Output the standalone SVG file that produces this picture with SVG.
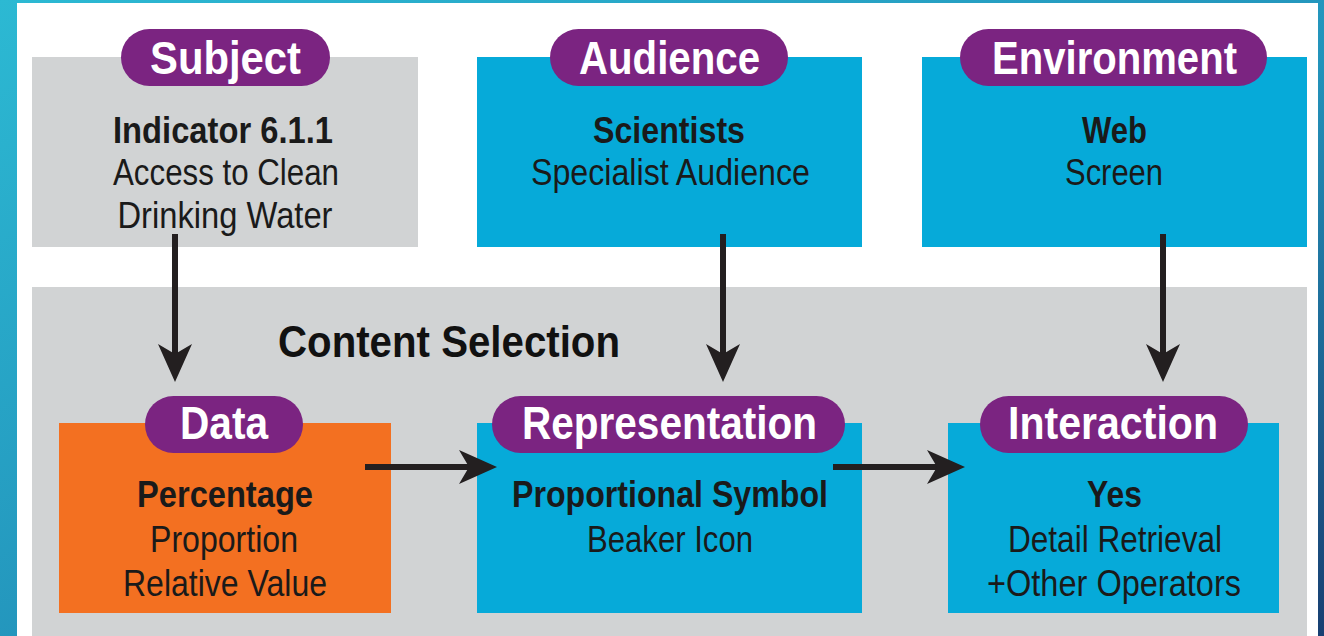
<svg xmlns="http://www.w3.org/2000/svg" width="1324" height="636" viewBox="0 0 1324 636">
  <defs>
    <linearGradient id="bg" x1="0" y1="0" x2="1" y2="1">
      <stop offset="0" stop-color="#2cb9d3"/>
      <stop offset="0.55" stop-color="#2393bb"/>
      <stop offset="1" stop-color="#183f72"/>
    </linearGradient>
    <marker id="arr" viewBox="0 0 38 34" refX="10" refY="17" markerWidth="38" markerHeight="34" markerUnits="userSpaceOnUse" orient="auto">
      <path d="M0,0 L38,17 L0,34 L10,17 Z" fill="#231f20"/>
    </marker>
  </defs>
  <style>
    .gray { fill: #d1d3d4; }
    .blue { fill: #06aad9; }
    .orange { fill: #f37021; }
    .pill { fill: #7b2481; }
    .title { font-family: "Liberation Sans", Arial, sans-serif; font-weight: bold; font-size: 46px; fill: #ffffff; text-anchor: middle; }
    .b { font-family: "Liberation Sans", Arial, sans-serif; font-weight: bold; font-size: 37px; fill: #1a1a1a; text-anchor: middle; }
    .r { font-family: "Liberation Sans", Arial, sans-serif; font-size: 37px; fill: #1a1a1a; text-anchor: middle; }
    .head { font-family: "Liberation Sans", Arial, sans-serif; font-weight: bold; font-size: 44px; fill: #111111; }
    .conn { stroke: #231f20; stroke-width: 6; fill: none; marker-end: url(#arr); }
  </style>

  <rect x="0" y="0" width="1324" height="636" fill="url(#bg)"/>
  <rect x="17" y="3" width="1301" height="633" fill="#ffffff"/>

  <g id="content-selection">
    <rect class="gray" x="32" y="287" width="1275" height="349"/>
    <text class="head" x="278" y="357" textLength="342" lengthAdjust="spacingAndGlyphs">Content Selection</text>
  </g>

  <g id="subject">
    <rect class="gray" x="32" y="57" width="386" height="190"/>
    <rect class="pill" x="121" y="29" width="209" height="57" rx="28.5"/>
    <text class="title" x="225.5" y="74" textLength="151" lengthAdjust="spacingAndGlyphs">Subject</text>
    <text class="b" x="223" y="143" textLength="220" lengthAdjust="spacingAndGlyphs">Indicator 6.1.1</text>
    <text class="r" x="226" y="185" textLength="226" lengthAdjust="spacingAndGlyphs">Access to Clean</text>
    <text class="r" x="225" y="228" textLength="215" lengthAdjust="spacingAndGlyphs">Drinking Water</text>
  </g>

  <g id="audience">
    <rect class="blue" x="477" y="57" width="385" height="190"/>
    <rect class="pill" x="550" y="29" width="238" height="57" rx="28.5"/>
    <text class="title" x="669.5" y="74" textLength="181" lengthAdjust="spacingAndGlyphs">Audience</text>
    <text class="b" x="669" y="143" textLength="152" lengthAdjust="spacingAndGlyphs">Scientists</text>
    <text class="r" x="670.5" y="185" textLength="279" lengthAdjust="spacingAndGlyphs">Specialist Audience</text>
  </g>

  <g id="environment">
    <rect class="blue" x="922" y="57" width="385" height="190"/>
    <rect class="pill" x="960" y="29" width="307" height="57" rx="28.5"/>
    <text class="title" x="1114.5" y="74" textLength="245" lengthAdjust="spacingAndGlyphs">Environment</text>
    <text class="b" x="1114.5" y="143" textLength="65" lengthAdjust="spacingAndGlyphs">Web</text>
    <text class="r" x="1114" y="185" textLength="98" lengthAdjust="spacingAndGlyphs">Screen</text>
  </g>

  <g id="data">
    <rect class="orange" x="59" y="423" width="332" height="190"/>
    <rect class="pill" x="145" y="396" width="158" height="57" rx="28.5"/>
    <text class="title" x="224" y="439" textLength="88" lengthAdjust="spacingAndGlyphs">Data</text>
    <text class="b" x="225" y="507" textLength="176" lengthAdjust="spacingAndGlyphs">Percentage</text>
    <text class="r" x="224" y="552" textLength="148" lengthAdjust="spacingAndGlyphs">Proportion</text>
    <text class="r" x="225" y="596" textLength="204" lengthAdjust="spacingAndGlyphs">Relative Value</text>
  </g>

  <g id="representation">
    <rect class="blue" x="477" y="423" width="385" height="190"/>
    <rect class="pill" x="492" y="396" width="353" height="57" rx="28.5"/>
    <text class="title" x="669.5" y="439" textLength="295" lengthAdjust="spacingAndGlyphs">Representation</text>
    <text class="b" x="670" y="507" textLength="316" lengthAdjust="spacingAndGlyphs">Proportional Symbol</text>
    <text class="r" x="670" y="552" textLength="166" lengthAdjust="spacingAndGlyphs">Beaker Icon</text>
  </g>

  <g id="interaction">
    <rect class="blue" x="948" y="423" width="331" height="190"/>
    <rect class="pill" x="980" y="396" width="268" height="57" rx="28.5"/>
    <text class="title" x="1113" y="439" textLength="210" lengthAdjust="spacingAndGlyphs">Interaction</text>
    <text class="b" x="1114.5" y="507" textLength="55" lengthAdjust="spacingAndGlyphs">Yes</text>
    <text class="r" x="1115" y="552" textLength="214" lengthAdjust="spacingAndGlyphs">Detail Retrieval</text>
    <text class="r" x="1114" y="596" textLength="254" lengthAdjust="spacingAndGlyphs">+Other Operators</text>
  </g>

  <g id="connectors">
    <line class="conn" x1="175" y1="234" x2="175" y2="354"/>
    <line class="conn" x1="723" y1="234" x2="723" y2="354"/>
    <line class="conn" x1="1163" y1="234" x2="1163" y2="354"/>
    <line class="conn" x1="365" y1="467" x2="469" y2="467"/>
    <line class="conn" x1="833" y1="467" x2="937" y2="467"/>
  </g>
</svg>
